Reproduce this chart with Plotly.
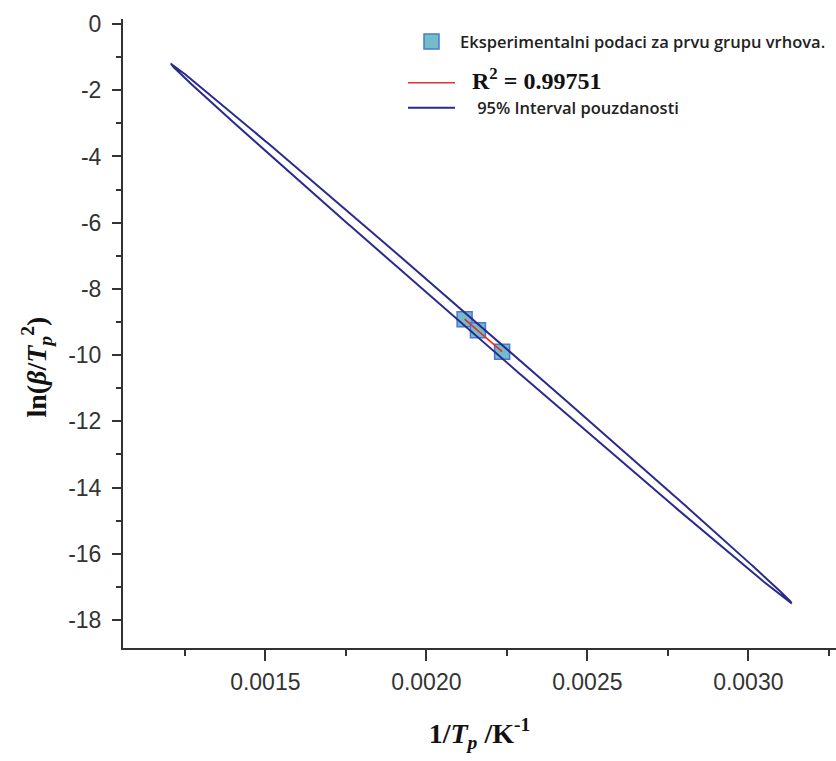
import numpy as np
import plotly.graph_objects as go

# Data
x_data = [0.0021189, 0.0021603, 0.0022354]   # 1/Tp (K^-1)
y_data = [-8.92, -9.246, -9.90]              # ln(beta/Tp^2)
r2_label = "0.99751"
conf_level = 0.95

legend_names = [
    "Eksperimentalni podaci za prvu grupu vrhova.",
    "R<sup>2</sup> = " + r2_label,
    "95% Interval pouzdanosti",
]
x_tickvals = [0.0015, 0.0020, 0.0025, 0.0030]
x_ticktext = ["0.0015", "0.0020", "0.0025", "0.0030"]
y_tickvals = [0, -2, -4, -6, -8, -10, -12, -14, -16, -18]
y_ticktext = ["0", "-2", "-4", "-6", "-8", "-10", "-12", "-14", "-16", "-18"]

# ---- derived: linear fit and confidence ellipse of the mean ----
xa = np.array(x_data)
ya = np.array(y_data)
n = len(xa)
slope, intercept = np.polyfit(xa, ya, 1)
fit_x = np.array([xa.min(), xa.max()])
fit_y = slope * fit_x + intercept

alpha = 1 - conf_level
d2 = n - 2
F = d2 / 2.0 * (alpha ** (-2.0 / d2) - 1)          # F(2, n-2) quantile
c = np.sqrt(2 * (n - 1) / (n * (n - 2)) * F)
S = np.cov(np.vstack([xa, ya]))
L = np.linalg.cholesky(S)
t = np.linspace(0, 2 * np.pi, 721)
circ = np.vstack([np.cos(t), np.sin(t)])
ell = L @ circ * c
ex = xa.mean() + ell[0]
ey = ya.mean() + ell[1]

fig = go.Figure()

fig.add_trace(go.Scatter(
    x=x_data, y=y_data, mode="markers",
    name='<span style="font-size:16.5px">' + legend_names[0] + "</span>",
    legendgroup="a", legendrank=1,
    marker=dict(symbol="square", size=15, color="#74bcc9",
                line=dict(color="#4a78d6", width=1.5)),
))
fig.add_trace(go.Scatter(
    x=fit_x, y=fit_y, mode="lines",
    name='<span style="font-family:\'Liberation Serif\', \'Times New Roman\', serif; font-size:24px; font-weight:bold; color:#111">&nbsp;&nbsp;'
         + legend_names[1] + "</span>",
    legendgroup="b", legendrank=2,
    line=dict(color="#e3302c", width=1.6),
))
fig.add_trace(go.Scatter(
    x=ex, y=ey, mode="lines",
    name='<span style="font-size:16.5px">&nbsp;&nbsp;&nbsp;&nbsp;' + legend_names[2] + "</span>",
    legendgroup="b", legendrank=3,
    line=dict(color="#2b2b8c", width=2),
))

tick_font = dict(family="Liberation Sans, Arial, sans-serif", size=23, color="#333333")
title_font = dict(family="Liberation Serif, Times New Roman, serif", size=28, color="#111111")

fig.update_layout(
    width=836, height=761,
    margin=dict(l=123, r=0, t=19, b=113),
    paper_bgcolor="white", plot_bgcolor="white",
    showlegend=True,
    legend=dict(
        x=0.3927, y=0.992, xanchor="left", yanchor="top",
        bgcolor="rgba(0,0,0,0)", borderwidth=0,
        itemwidth=47, traceorder="grouped", tracegroupgap=16,
        font=dict(family="Open Sans, sans-serif", size=17, color="#222222", weight=600),
    ),
    xaxis=dict(
        range=[0.001058, 0.0032723],
        tickvals=x_tickvals, ticktext=x_ticktext,
        ticks="outside", ticklen=11, tickwidth=1.6, tickcolor="#333333",
        minor=dict(dtick=0.0005, tick0=0.00125, ticks="outside", ticklen=6,
                   tickwidth=1.6, tickcolor="#333333"),
        showline=True, linewidth=2, linecolor="#333333",
        showgrid=False, zeroline=False,
        tickfont=tick_font, ticklabelstandoff=1,
        title=dict(text="<b>1/<i>T</i><sub><i>p</i></sub> /K<sup>-1</sup></b>",
                   font=title_font, standoff=30),
    ),
    yaxis=dict(
        range=[-18.846, 0.151],
        tickvals=y_tickvals, ticktext=y_ticktext,
        ticks="outside", ticklen=9, tickwidth=1.6, tickcolor="#333333",
        minor=dict(dtick=1, tick0=0, ticks="outside", ticklen=5, tickwidth=1.6,
                   tickcolor="#333333"),
        showline=True, linewidth=2, linecolor="#333333",
        showgrid=False, zeroline=False,
        tickfont=tick_font, ticklabelstandoff=6,
    ),
    annotations=[dict(
        text="<b>ln(<i>β</i>/<i>T</i><sub><i>p</i></sub><sup>2</sup>)</b>",
        font=title_font, textangle=-90, showarrow=False,
        xref="paper", yref="paper", x=-0.121, y=0.447,
        xanchor="center", yanchor="middle",
    )],
)

fig.write_html("out.html")
